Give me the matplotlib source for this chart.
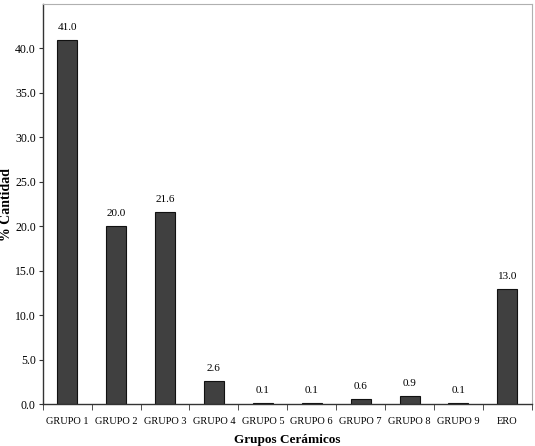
import matplotlib
matplotlib.use("Agg")
import matplotlib.pyplot as plt
import numpy as np

categories = ["GRUPO 1", "GRUPO 2", "GRUPO 3", "GRUPO 4", "GRUPO 5",
              "GRUPO 6", "GRUPO 7", "GRUPO 8", "GRUPO 9", "ERO"]
values = [41.0, 20.0, 21.6, 2.6, 0.1, 0.1, 0.6, 0.9, 0.1, 13.0]

plt.rcParams["font.family"] = ["Liberation Serif", "DejaVu Serif"]

fig = plt.figure(figsize=(5.35, 4.46), dpi=100)
ax = fig.add_axes([0.080, 0.094, 0.914, 0.897])

x = np.arange(len(categories))
ax.bar(x, values, width=0.41, color="#404040", edgecolor="#111111", linewidth=0.8)
for xi, v in zip(x, values):
    ax.text(xi, v + 0.9, f"{v:.1f}", ha="center", va="bottom", fontsize=8)

ax.set_xlim(-0.5, len(categories) - 0.5)
ax.set_ylim(0, 45)
ticks = np.arange(0, 45, 5.0)
ax.set_yticks(ticks)
ax.set_yticklabels([f"{t:.1f}" for t in ticks], fontsize=8.5)
ax.set_xticks(x)
ax.set_xticklabels(categories, fontsize=7.5)
ax.set_xticks(np.arange(-0.5, len(categories)), minor=True)
ax.tick_params(axis="x", which="major", length=0, pad=9)
ax.tick_params(axis="x", which="minor", length=4, direction="out", color="#333333")
ax.tick_params(axis="y", length=3, direction="out", color="#333333", pad=2)

for side in ["top", "right"]:
    ax.spines[side].set_color("#b0b0b0")
    ax.spines[side].set_linewidth(0.8)
for side in ["left", "bottom"]:
    ax.spines[side].set_color("#333333")
    ax.spines[side].set_linewidth(1.0)

ax.set_xlabel("Grupos Cerámicos", fontsize=9.5, fontweight="bold")
ax.xaxis.set_label_coords(0.5, -0.075)
ax.set_ylabel("% Cantidad", fontsize=10, fontweight="bold")
ax.yaxis.set_label_coords(-0.061, 0.5)

fig.savefig("out.png", dpi=100)
